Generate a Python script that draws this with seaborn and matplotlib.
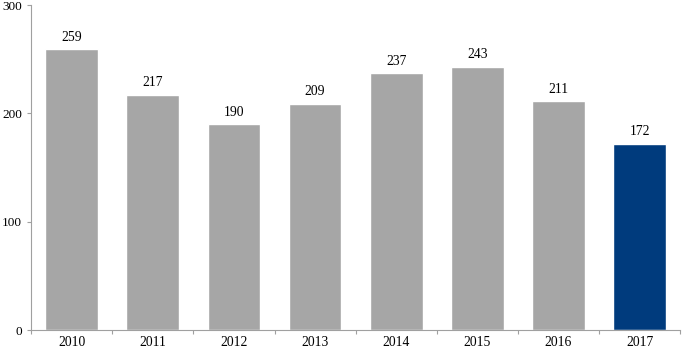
import matplotlib
matplotlib.use("Agg")
import matplotlib.pyplot as plt
import seaborn as sns
import pandas as pd

years = ["2010", "2011", "2012", "2013", "2014", "2015", "2016", "2017"]
values = [259, 217, 190, 209, 237, 243, 211, 172]
colors = ["#a6a6a6"] * 7 + ["#003b7d"]

sns.set_theme(style="white")
plt.rcParams["font.family"] = ["Liberation Serif", "DejaVu Serif"]

df = pd.DataFrame({"year": years, "value": values})

fig = plt.figure(figsize=(6.82, 3.5), dpi=100)
ax = fig.add_axes([0.0455, 0.0571, 0.952, 0.9286])
sns.barplot(data=df, x="year", y="value", hue="year", palette=colors,
            legend=False, width=0.65, saturation=1, ax=ax)
for c in ax.containers:
    ax.bar_label(c, padding=4, fontsize=9.8, color="#000000")

ax.set_ylim(0, 300)
ax.set_xlim(-0.5, 7.5)
ax.set_yticks([0, 100, 200, 300])
ax.set_xlabel("")
ax.set_ylabel("")
for s in ["top", "right"]:
    ax.spines[s].set_visible(False)
for s in ["left", "bottom"]:
    ax.spines[s].set_color("#a0a0a0")
    ax.spines[s].set_linewidth(0.8)
ax.set_xticks([i - 0.5 for i in range(9)], minor=True)
ax.tick_params(axis="x", which="major", length=0, labelsize=9.8, pad=4, colors="#000000")
ax.tick_params(axis="x", which="minor", length=3, direction="out", color="#a0a0a0", width=0.8, bottom=True)
ax.tick_params(axis="y", which="major", length=3, direction="out", color="#a0a0a0", width=0.8,
               labelsize=9.5, pad=3.5, left=True)
for lab in ax.get_yticklabels():
    lab.set_color("#000000")

fig.savefig("out.png", dpi=100)
